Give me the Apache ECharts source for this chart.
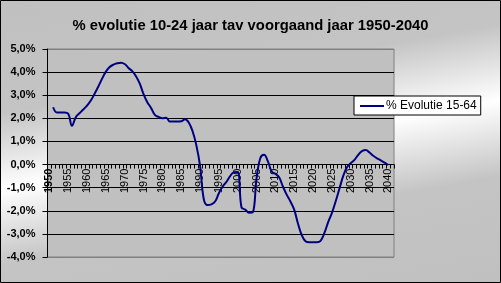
<!DOCTYPE html>
<html>
<head>
<meta charset="utf-8">
<script src="https://cdn.jsdelivr.net/npm/echarts@6/dist/echarts.min.js"></script>
<style>
html,body{margin:0;padding:0;}
#c{width:501px;height:283px;}
</style>
</head>
<body>
<div id="c"></div>
<script>
var titleText = '% evolutie 10-24 jaar tav voorgaand jaar 1950-2040';
var seriesName = '% Evolutie 15-64';
var firstYear = 1950, lastYear = 2041;
var years = [];
for (var y = firstYear; y <= lastYear; y++) years.push(String(y));
var yTicks = { min: -4, max: 5, step: 1 };
// % change vs previous year, 1950..2041 (1950 and 2041 empty)
var values = [
  null, 2.48, 2.25, 2.25, 2.25, 2.20, 1.68, 2.05, 2.22, 2.38,
  2.55, 2.77, 3.06, 3.38, 3.72, 4.02, 4.22, 4.32, 4.38, 4.41,
  4.35, 4.18, 4.04, 3.82, 3.50, 3.05, 2.70, 2.45, 2.15, 2.06,
  2.00, 2.03, 1.86, 1.86, 1.86, 1.87, 1.96, 1.82, 1.45, 0.85,
  -0.05, -1.50, -1.75, -1.72, -1.60, -1.24, -0.95, -0.75, -0.50, -0.33,
  -0.32, -1.85, -1.95, -2.08, -2.06, -0.60, 0.27, 0.42, 0.15, -0.30,
  -0.40, -0.55, -0.95, -1.30, -1.60, -1.95, -2.55, -3.05, -3.32, -3.36,
  -3.36, -3.36, -3.30, -2.97, -2.50, -2.10, -1.60, -1.05, -0.50, -0.12,
  0.06, 0.20, 0.42, 0.58, 0.63, 0.52, 0.38, 0.27, 0.18, 0.08,
  -0.02, null
];

var chart = echarts.init(document.getElementById('c'), null, {renderer: 'canvas'});
var font = 'Liberation Sans, Arial, sans-serif';
var splitColors = [];
var nLines = (yTicks.max - yTicks.min) / yTicks.step + 1;
for (var i = 0; i < nLines; i++) splitColors.push(i === 0 || i === nLines - 1 ? '#808080' : '#000000');

var gridTop = 49, gridBottom = 26, chartH = 283;
var plotH = chartH - gridTop - gridBottom;
var zeroOffset = -plotH * (0 - yTicks.min) / (yTicks.max - yTicks.min);

chart.setOption({
  animation: false,
  backgroundColor: new echarts.graphic.LinearGradient(217, -39, 283, 329, [
    {offset: 0, color: '#c0c0c0'},
    {offset: 0.3, color: '#c4c4c4'},
    {offset: 0.5, color: '#ffffff'},
    {offset: 0.7, color: '#c4c4c4'},
    {offset: 1, color: '#c0c0c0'}
  ], true),
  title: {
    text: titleText,
    left: 'center',
    top: 18,
    padding: 0,
    textStyle: {fontFamily: font, fontSize: 14.8, fontWeight: 'bold', color: '#000'}
  },
  legend: {
    left: 354,
    top: 96,
    orient: 'vertical',
    backgroundColor: '#ffffff',
    borderColor: '#000000',
    borderWidth: 1,
    borderRadius: 0,
    padding: [4, 4, 3, 6],
    itemWidth: 24,
    itemHeight: 2,
    itemGap: 0,
    icon: 'rect',
    textStyle: {fontFamily: font, fontSize: 12, color: '#000', padding: [0, 0, 0, -3]},
    data: [seriesName]
  },
  grid: {
    left: 47.5, right: 107, top: gridTop, bottom: gridBottom,
    outerBoundsMode: 'none', containLabel: false,
    show: true, backgroundColor: '#c0c0c0', borderColor: '#808080', borderWidth: 1
  },
  xAxis: {
    type: 'category',
    data: years,
    boundaryGap: true,
    offset: zeroOffset,
    axisLine: {onZero: false, lineStyle: {color: '#000', width: 1}},
    axisTick: {show: true, interval: 0, length: 4, lineStyle: {color: '#000'}},
    axisLabel: {
      interval: 4, rotate: 90, margin: 4,
      fontFamily: font, fontSize: 11, color: '#000',
      formatter: function (v, idx) { return idx === 0 ? '{b|' + v + '}' : v; },
      rich: {b: {fontFamily: font, fontSize: 11, fontWeight: 'bold', color: '#000'}}
    },
    splitLine: {show: false}
  },
  yAxis: {
    type: 'value',
    min: yTicks.min, max: yTicks.max, interval: yTicks.step,
    axisLine: {show: true, lineStyle: {color: '#000'}},
    axisTick: {show: true, length: 5, lineStyle: {color: '#000'}},
    axisLabel: {
      margin: 12, fontFamily: font, fontSize: 11, fontWeight: 'bold', color: '#000',
      formatter: function (v) { return v.toFixed(1).replace('.', ',') + '%'; }
    },
    splitLine: {show: true, lineStyle: {color: splitColors, width: 1}}
  },
  series: [{
    name: seriesName,
    type: 'line',
    data: values,
    smooth: 0.4,
    showSymbol: false,
    connectNulls: false,
    lineStyle: {color: '#000080', width: 2},
    itemStyle: {color: '#000080'}
  }],
  graphic: [{
    type: 'rect', z: 100, silent: true,
    shape: {x: 0.5, y: 0.5, width: 500, height: 282},
    style: {fill: null, stroke: '#000', lineWidth: 1}
  }]
});
</script>
</body>
</html>
